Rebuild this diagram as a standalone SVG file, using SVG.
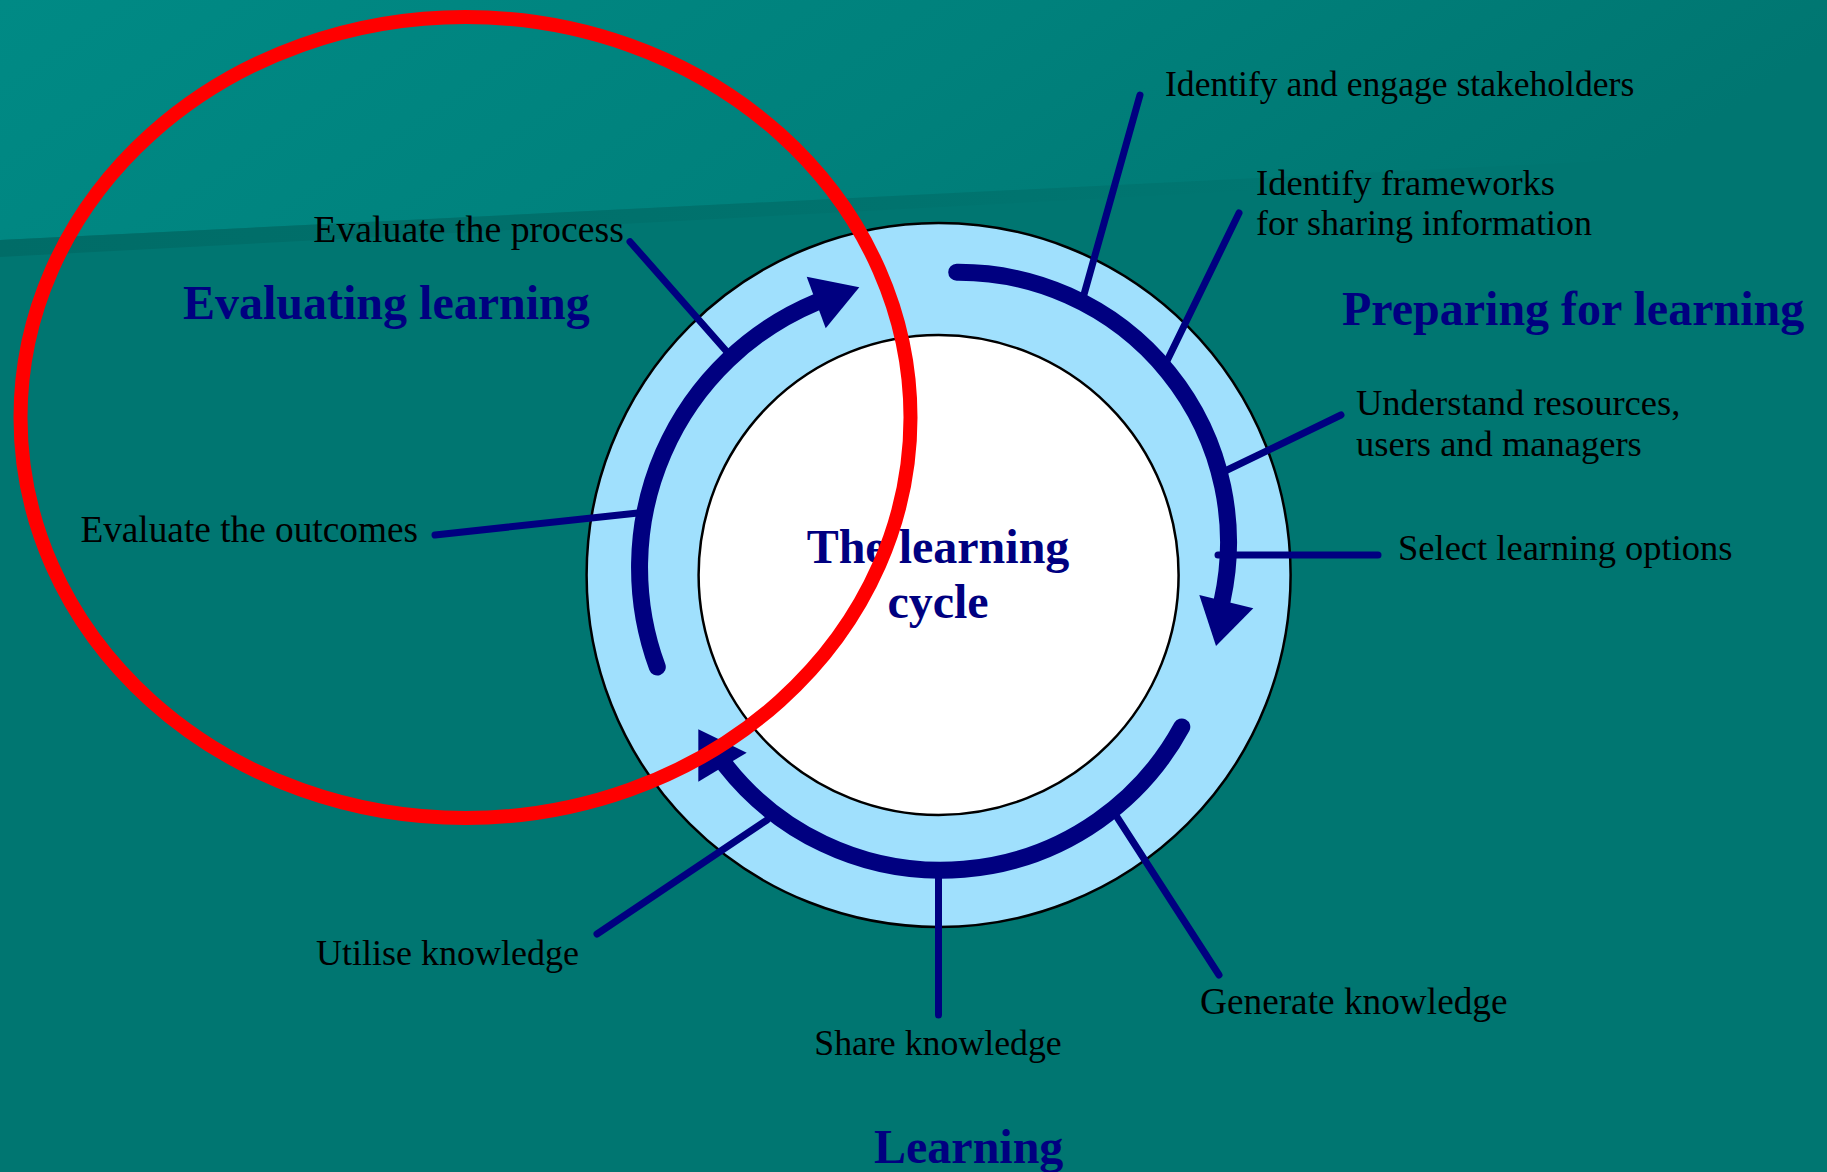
<svg xmlns="http://www.w3.org/2000/svg" width="1827" height="1172" viewBox="0 0 1827 1172">
<defs>
<linearGradient id="sky" x1="0" y1="0" x2="1" y2="0.2">
<stop offset="0" stop-color="#008a85"/>
<stop offset="0.55" stop-color="#00817c"/>
<stop offset="1" stop-color="#007671"/>
</linearGradient>
<linearGradient id="stripe" x1="0" y1="0" x2="1" y2="0">
<stop offset="0" stop-color="#006c67" stop-opacity="1"/>
<stop offset="0.7" stop-color="#006c67" stop-opacity="0"/>
</linearGradient>
</defs>
<style>
.arc{fill:none;stroke:#000080;stroke-width:17;stroke-linecap:round}
.head{fill:#000080}
.lead{fill:none;stroke:#000080;stroke-width:7;stroke-linecap:round}
.lbl{font-family:"Liberation Serif","Times New Roman",serif;font-size:36.5px;fill:#000000}
.hd{font-family:"Liberation Serif","Times New Roman",serif;font-size:48px;font-weight:bold;fill:#000080}
</style>
<g id="background">
<rect x="0" y="0" width="1827" height="1172" fill="#007671"/>
<polygon points="0,0 1827,0 1827,150 0,240" fill="url(#sky)"/>
<polygon points="0,240 1827,150 1827,160 0,257" fill="url(#stripe)"/>
</g>
<g id="ring">
<circle cx="938.6" cy="575" r="352" fill="#a0e0fd" stroke="#000000" stroke-width="2.5"/>
<circle cx="938.6" cy="575" r="240" fill="#ffffff" stroke="#000000" stroke-width="2.5"/>
</g>
<g id="connectors">
<path class="arc" d="M 956.7 272.3 A 270 270 0 0 1 1222.1 600.8"/>
<polygon class="head" points="1199.3,595 1253.3,608.3 1216,646"/>
<path class="arc" d="M 1181.8 726.9 A 274 274 0 0 1 725.2 765.1"/>
<polygon class="head" points="698.3,729.3 746.7,752.7 698.3,781.7"/>
<path class="arc" d="M 657.3 667 A 287.5 287.5 0 0 1 816.1 302.3"/>
<polygon class="head" points="806.7,276.7 859.3,287.3 825.7,328.3"/>
<line class="lead" x1="630" y1="241.7" x2="728" y2="353"/>
<line class="lead" x1="435" y1="535" x2="638" y2="513"/>
<line class="lead" x1="1140" y1="95" x2="1083" y2="298"/>
<line class="lead" x1="1239" y1="213" x2="1165" y2="365"/>
<line class="lead" x1="1341" y1="415" x2="1223" y2="472"/>
<line class="lead" x1="1218" y1="555" x2="1378" y2="555" stroke-width="8"/>
<line class="lead" x1="1117" y1="817" x2="1219" y2="975"/>
<line class="lead" x1="938.5" y1="872" x2="938.5" y2="1015"/>
<line class="lead" x1="767" y1="820" x2="597" y2="934"/>
</g>
<g id="center-title">
<text class="hd" x="938" y="563" text-anchor="middle">The learning</text>
<text class="hd" x="938" y="618" text-anchor="middle">cycle</text>
</g>
<g id="phase-preparing">
<text class="hd" x="1342" y="325">Preparing for learning</text>
</g>
<g id="phase-learning">
<text class="hd" x="874" y="1163">Learning</text>
</g>
<g id="phase-evaluating">
<text class="hd" x="183" y="319">Evaluating learning</text>
</g>
<g id="label-stakeholders"><text class="lbl" x="1165" y="96" style="font-size:35.6px">Identify and engage stakeholders</text></g>
<g id="label-frameworks">
<text class="lbl" x="1256" y="195">Identify frameworks</text>
<text class="lbl" x="1256" y="235" style="font-size:36px">for sharing information</text>
</g>
<g id="label-resources">
<text class="lbl" x="1356" y="415">Understand resources,</text>
<text class="lbl" x="1356" y="456">users and managers</text>
</g>
<g id="label-select"><text class="lbl" x="1398" y="560">Select learning options</text></g>
<g id="label-generate"><text class="lbl" x="1200" y="1014" style="font-size:37.3px">Generate knowledge</text></g>
<g id="label-share"><text class="lbl" x="938" y="1055" text-anchor="middle" style="font-size:35.8px">Share knowledge</text></g>
<g id="label-utilise"><text class="lbl" x="579" y="965" text-anchor="end" style="font-size:36px">Utilise knowledge</text></g>
<g id="label-outcomes"><text class="lbl" x="418" y="542" text-anchor="end" style="font-size:37.3px">Evaluate the outcomes</text></g>
<g id="label-process"><text class="lbl" x="624" y="242" text-anchor="end" style="font-size:37.8px">Evaluate the process</text></g>
<g id="highlight">
<ellipse cx="465.5" cy="417.5" rx="445" ry="400.5" fill="none" stroke="#ff0000" stroke-width="14"/>
</g>
</svg>
